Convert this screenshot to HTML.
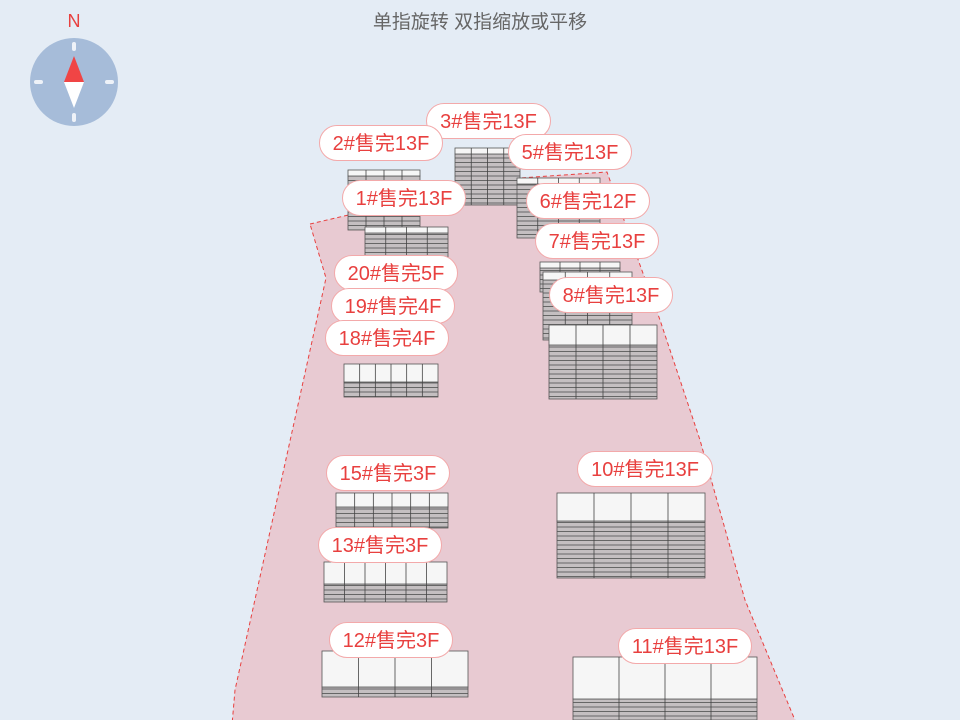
<!DOCTYPE html>
<html><head><meta charset="utf-8"><style>
html,body{margin:0;padding:0;}
body{width:960px;height:720px;overflow:hidden;background:#e4ecf5;position:relative;font-family:"Liberation Sans","Noto Sans CJK SC",sans-serif;}
.t{position:absolute;top:7px;left:0;width:960px;text-align:center;font-size:19px;color:#666;}
.lb{position:absolute;height:36px;line-height:37px;background:#fff;border:1px solid #f3a9aa;border-radius:19px;color:#e8403f;font-size:20px;text-align:center;box-sizing:border-box;white-space:nowrap;}
svg{position:absolute;left:0;top:0;}
</style></head><body>
<svg id="s" width="960" height="720">
<defs>
<pattern id="st" width="10" height="4.5" patternUnits="userSpaceOnUse"><rect width="10" height="4.5" fill="#c4bfc1"/><rect width="10" height="1" fill="#666"/></pattern>
</defs>
<polygon points="310,224 455,190 520,178 607,172 640,265 660,320 700,440 745,600 797,725 232,725 235,690 326,278" fill="#e8cad2" stroke="#e8403f" stroke-width="1" stroke-dasharray="4,3"/>
<g id="b"></g>
<circle cx="74" cy="82" r="44" fill="#a6bcd9"/>
<rect x="72" y="42" width="4" height="9" rx="2" fill="#eef2f8"/>
<rect x="72" y="113" width="4" height="9" rx="2" fill="#eef2f8"/>
<rect x="34" y="80" width="9" height="4" rx="2" fill="#eef2f8"/>
<rect x="105" y="80" width="9" height="4" rx="2" fill="#eef2f8"/>
<polygon points="74,56 64,82 84,82" fill="#f04545"/>
<polygon points="74,108 64,82 84,82" fill="#fff"/>
<text x="74" y="27" text-anchor="middle" font-size="18" fill="#e8403f" font-family="Liberation Sans,sans-serif">N</text>
</svg>
<script>
var B=[[455,148,65,57,6,4],[348,170,72,60,6,4],[365,227,83,35,6,4],[517,178,83,60,6,4],[540,262,80,30,6,4],[543,272,89,68,8,4],[549,325,108,74,20,4],[344,364,94,33,18,6],[336,493,112,35,14,6],[324,562,123,40,22,6],[322,651,146,46,36,4],[557,493,148,85,28,4],[573,657,184,63,42,4]];
var h='';
B.forEach(function(a){var x=a[0],y=a[1],w=a[2],hh=a[3],tp=a[4],n=a[5];
h+='<rect x="'+x+'" y="'+(y+tp)+'" width="'+w+'" height="'+(hh-tp)+'" fill="url(#st)" stroke="#555" stroke-width="0.8"/>';
h+='<rect x="'+x+'" y="'+y+'" width="'+w+'" height="'+tp+'" fill="#f6f6f6" stroke="#555" stroke-width="0.8"/>';
for(var i=1;i<n;i++){var xx=x+w*i/n;h+='<line x1="'+xx+'" y1="'+y+'" x2="'+xx+'" y2="'+(y+hh)+'" stroke="#444" stroke-width="0.8"/>';}
});
document.getElementById('b').innerHTML=h;
</script>
<div class="t">单指旋转 双指缩放或平移</div>
<div class="lb" style="left:426px;top:103px;width:125px">3#售完13F</div>
<div class="lb" style="left:319px;top:125px;width:124px">2#售完13F</div>
<div class="lb" style="left:508px;top:134px;width:124px">5#售完13F</div>
<div class="lb" style="left:342px;top:180px;width:124px">1#售完13F</div>
<div class="lb" style="left:526px;top:183px;width:124px">6#售完12F</div>
<div class="lb" style="left:535px;top:223px;width:124px">7#售完13F</div>
<div class="lb" style="left:334px;top:255px;width:124px">20#售完5F</div>
<div class="lb" style="left:549px;top:277px;width:124px">8#售完13F</div>
<div class="lb" style="left:331px;top:288px;width:124px">19#售完4F</div>
<div class="lb" style="left:325px;top:320px;width:124px">18#售完4F</div>
<div class="lb" style="left:577px;top:451px;width:136px">10#售完13F</div>
<div class="lb" style="left:326px;top:455px;width:124px">15#售完3F</div>
<div class="lb" style="left:318px;top:527px;width:124px">13#售完3F</div>
<div class="lb" style="left:329px;top:622px;width:124px">12#售完3F</div>
<div class="lb" style="left:618px;top:628px;width:134px">11#售完13F</div>
</body></html>
